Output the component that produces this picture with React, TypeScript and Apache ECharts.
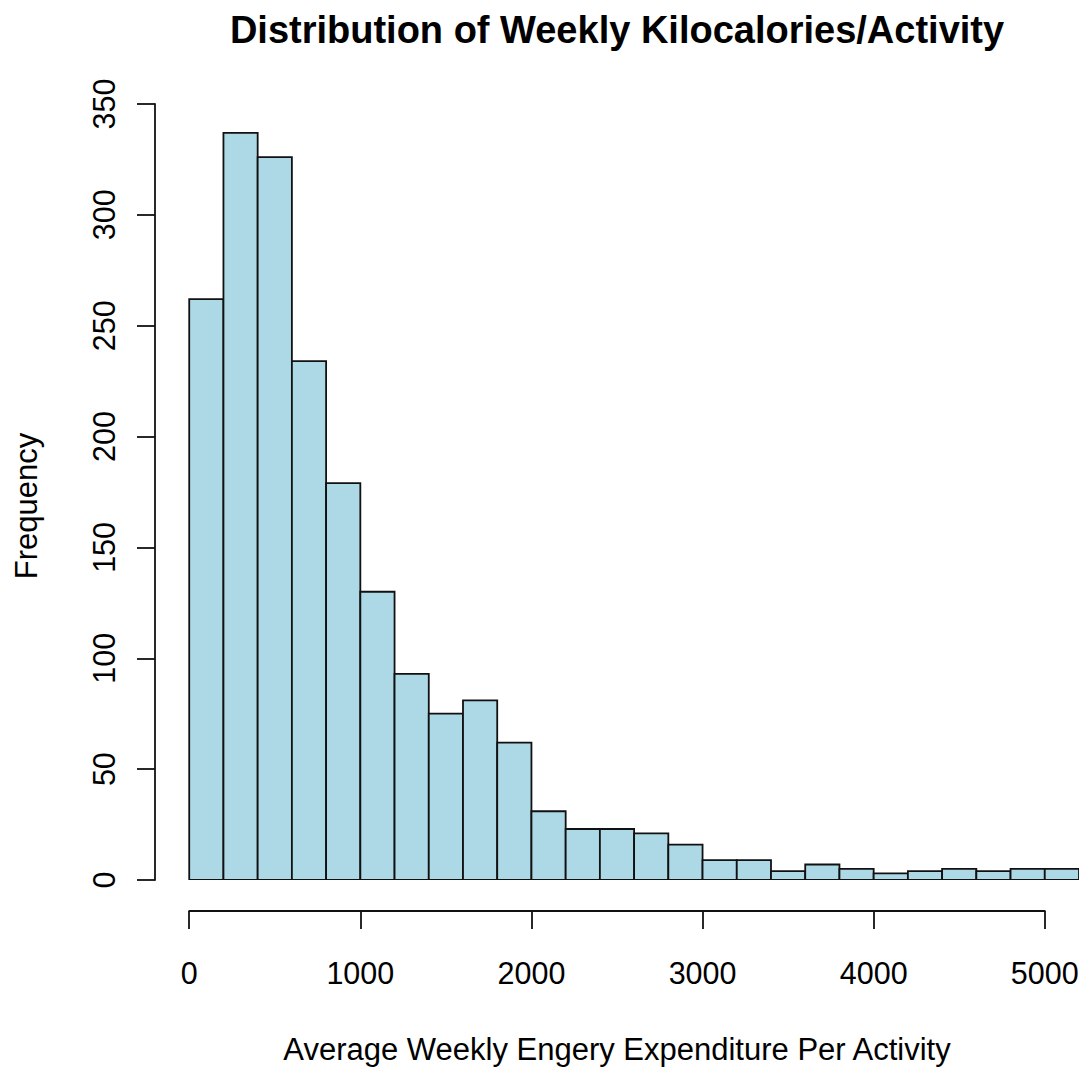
import React, { useEffect, useRef } from "react";
import * as echarts from "echarts";

// Histogram breaks (bin edges) and frequency counts
const breaks = [0, 200, 400, 600, 800, 1000, 1200, 1400, 1600, 1800, 2000, 2200, 2400, 2600, 2800, 3000, 3200, 3400, 3600, 3800, 4000, 4200, 4400, 4600, 4800, 5000, 5200];
const counts = [262, 337, 326, 234, 179, 130, 93, 75, 81, 62, 31, 23, 23, 21, 16, 9, 9, 4, 7, 5, 3, 4, 5, 4, 5, 5];
const xTicks = [0, 1000, 2000, 3000, 4000, 5000];
const yTicks = [0, 50, 100, 150, 200, 250, 300, 350];

const titleText = "Distribution of Weekly Kilocalories/Activity";
const xLabel = "Average Weekly Engery Expenditure Per Activity";
const yLabel = "Frequency";

const W = 1087;
const H = 1072;
const FONT = "'Liberation Sans', Arial, Helvetica, sans-serif";

export default function App() {
  const ref = useRef<HTMLDivElement>(null);
  useEffect(() => {
    if (!ref.current) return;
    const chart = echarts.init(ref.current, undefined, { renderer: "svg" });

    // plot region (R usr) in pixels
    const plotLeft = 155;
    const plotRight = 1079;
    const xMin = -200;
    const xMax = 5200;
    const pxPerX = (plotRight - plotLeft) / (xMax - xMin);
    const axLeft = plotLeft + (xTicks[0] - xMin) * pxPerX;
    const axRight = plotLeft + (xTicks[xTicks.length - 1] - xMin) * pxPerX;
    const y0px = 880;
    const y350px = 104;
    const xAxisY = 911;

    const data = counts.map((c, i) => [breaks[i], breaks[i + 1], c]);
    const lineCol = "#111";
    const lw = 1.8;

    const option: any = {
      animation: false,
      backgroundColor: "#fff",
      grid: [
        { left: plotLeft, right: W - plotRight, top: y350px, bottom: H - y0px },
        { left: axLeft, right: W - axRight, top: y350px, bottom: H - y0px },
      ],
      xAxis: [
        { gridIndex: 0, type: "value", min: xMin, max: xMax, show: false },
        {
          gridIndex: 1,
          type: "value",
          min: xTicks[0],
          max: xTicks[xTicks.length - 1],
          interval: 1000,
          position: "bottom",
          offset: xAxisY - y0px,
          axisLine: { show: true, onZero: false, lineStyle: { color: lineCol, width: lw } },
          axisTick: { show: true, inside: false, length: 18, lineStyle: { color: lineCol, width: lw } },
          splitLine: { show: false },
          axisLabel: {
            show: true,
            fontFamily: FONT,
            fontSize: 30.5,
            color: "#000",
            margin: 62,
            verticalAlign: "middle",
            showMinLabel: true,
            showMaxLabel: true,
            formatter: (v: number) => String(v),
          },
        },
      ],
      yAxis: [
        { gridIndex: 0, type: "value", min: yTicks[0], max: yTicks[yTicks.length - 1], show: false },
        {
          gridIndex: 1,
          type: "value",
          min: yTicks[0],
          max: yTicks[yTicks.length - 1],
          interval: 50,
          position: "left",
          offset: axLeft - plotLeft,
          axisLine: { show: true, onZero: false, lineStyle: { color: lineCol, width: lw } },
          axisTick: { show: true, inside: false, length: 18, lineStyle: { color: lineCol, width: lw } },
          splitLine: { show: false },
          axisLabel: {
            show: true,
            fontFamily: FONT,
            fontSize: 30.5,
            color: "#000",
            rotate: 90,
            margin: 51,
            align: "center",
            verticalAlign: "middle",
            showMinLabel: true,
            showMaxLabel: true,
            formatter: (v: number) => String(v),
          },
        },
      ],
      series: [
        {
          type: "custom",
          xAxisIndex: 0,
          yAxisIndex: 0,
          clip: true,
          encode: { x: [0, 1], y: 2 },
          data,
          renderItem: (params: any, api: any) => {
            const p0 = api.coord([api.value(0), 0]);
            const p1 = api.coord([api.value(1), api.value(2)]);
            return {
              type: "rect",
              shape: { x: p0[0], y: p1[1], width: p1[0] - p0[0], height: p0[1] - p1[1] },
              style: { fill: "#ADD8E6", stroke: lineCol, lineWidth: lw },
            };
          },
        },
      ],
      graphic: [
        {
          type: "text",
          x: (plotLeft + plotRight) / 2,
          y: 30,
          style: {
            text: titleText,
            fontFamily: FONT,
            fontWeight: "bold",
            fontSize: 38,
            fill: "#000",
            align: "center",
            verticalAlign: "middle",
          },
        },
        {
          type: "text",
          x: (plotLeft + plotRight) / 2,
          y: 1049,
          style: {
            text: xLabel,
            fontFamily: FONT,
            fontSize: 31,
            fill: "#000",
            align: "center",
            verticalAlign: "middle",
          },
        },
        {
          type: "text",
          x: 26,
          y: 506,
          rotation: Math.PI / 2,
          style: {
            text: yLabel,
            fontFamily: FONT,
            fontSize: 31,
            fill: "#000",
            align: "center",
            verticalAlign: "middle",
          },
        },
      ],
    };
    chart.setOption(option);
    return () => chart.dispose();
  }, []);
  return (
    <div
      ref={ref}
      style={{ position: "absolute", left: 0, top: 0, width: W, height: H, background: "#fff" }}
    />
  );
}
